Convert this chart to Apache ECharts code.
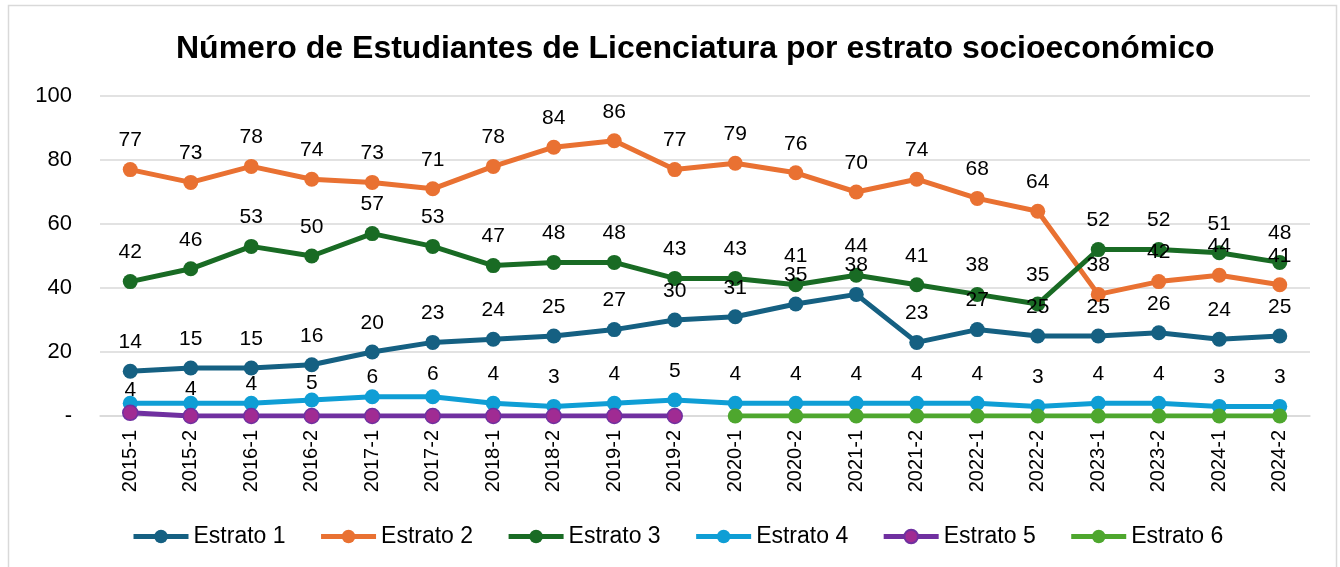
<!DOCTYPE html>
<html>
<head>
<meta charset="utf-8">
<script src="https://cdn.jsdelivr.net/npm/echarts@6/dist/echarts.min.js"></script>
<style>
  html, body { margin: 0; padding: 0; background: #fff; }
  #chart { width: 1340px; height: 567px; }
</style>
</head>
<body>
<div id="chart"></div>
<script>
// periodos
var periodos = ['2015-1','2015-2','2016-1','2016-2','2017-1','2017-2','2018-1','2018-2','2019-1','2019-2',
  '2020-1','2020-2','2021-1','2021-2','2022-1','2022-2','2023-1','2023-2','2024-1','2024-2'];

// valores por estrato
var estrato1 = [14,15,15,16,20,23,24,25,27,30,31,35,38,23,27,25,25,26,24,25];
var estrato2 = [77,73,78,74,73,71,78,84,86,77,79,76,70,74,68,64,38,42,44,41];
var estrato3 = [42,46,53,50,57,53,47,48,48,43,43,41,44,41,38,35,52,52,51,48];
var estrato4 = [4,4,4,5,6,6,4,3,4,5,4,4,4,4,4,3,4,4,3,3];
var estrato5 = [1,0,0,0,0,0,0,0,0,0,null,null,null,null,null,null,null,null,null,null];
var estrato6 = [null,null,null,null,null,null,null,null,null,null,0,0,0,0,0,0,0,0,0,0];

var yTicks = [0, 20, 40, 60, 80, 100];

var chart = echarts.init(document.getElementById('chart'));
var fuente = 'Liberation Sans, Arial, sans-serif';
var distEtiqueta = 11;

// etiquetas de estrato 4 que en el original van mas pegadas a la linea
var ajuste4 = {0: 16, 1: 15, 2: 10, 3: 12, 4: 9, 5: 6};

function serie(nombre, datos, color, conEtiqueta, colorPunto, ajustes) {
  var data = datos.map(function (v, i) {
    if (ajustes && ajustes[i] !== undefined) {
      return { value: v, label: { show: true, position: 'top', distance: distEtiqueta - ajustes[i] } };
    }
    return v;
  });
  return {
    name: nombre,
    type: 'line',
    data: data,
    symbol: 'circle',
    symbolSize: 15,
    showAllSymbol: true,
    lineStyle: { width: 5, color: color },
    itemStyle: colorPunto
      ? { color: colorPunto, borderColor: color, borderWidth: 1.5 }
      : { color: color },
    label: {
      show: conEtiqueta,
      position: 'top',
      distance: distEtiqueta,
      fontFamily: fuente,
      fontSize: 21,
      color: '#000'
    },
    emphasis: { disabled: true },
    animation: false
  };
}

chart.setOption({
  backgroundColor: '#fff',
  animation: false,
  title: {
    text: 'Número de Estudiantes de Licenciatura por estrato socioeconómico',
    left: 171,
    top: 28,
    textStyle: { fontFamily: fuente, fontSize: 32, fontWeight: 'bold', color: '#000' }
  },
  graphic: [{
    type: 'rect',
    shape: { x: 8.5, y: 5.5, width: 1328, height: 570 },
    style: { fill: 'none', stroke: '#D9D9D9', lineWidth: 1.5 },
    silent: true
  }],
  legend: {
    left: 126,
    top: 520,
    itemWidth: 55,
    itemHeight: 17,
    itemGap: 33,
    lineStyle: { width: 5 },
    textStyle: { fontFamily: fuente, fontSize: 23, color: '#000' },
    data: ['Estrato 1','Estrato 2','Estrato 3','Estrato 4','Estrato 5','Estrato 6']
  },
  grid: { left: 100, right: 30, top: 96, bottom: 151 },
  xAxis: {
    type: 'category',
    data: periodos,
    boundaryGap: true,
    axisLine: { show: true, lineStyle: { color: '#D9D9D9', width: 1.5 } },
    axisTick: { show: false },
    axisLabel: {
      rotate: 90,
      interval: 0,
      margin: 14,
      fontFamily: fuente,
      fontSize: 20,
      color: '#000'
    }
  },
  yAxis: {
    type: 'value',
    min: yTicks[0],
    max: yTicks[yTicks.length - 1],
    interval: 20,
    axisLine: { show: false },
    axisTick: { show: false },
    splitLine: { lineStyle: { color: '#D9D9D9', width: 1.5 } },
    axisLabel: {
      margin: 28,
      fontFamily: fuente,
      fontSize: 22,
      color: '#000',
      formatter: function (v) { return v === 0 ? '-' : String(v); }
    }
  },
  series: [
    serie('Estrato 1', estrato1, '#156082', true),
    serie('Estrato 2', estrato2, '#E97132', true),
    serie('Estrato 3', estrato3, '#196B24', true),
    serie('Estrato 4', estrato4, '#0F9ED5', true, null, ajuste4),
    serie('Estrato 5', estrato5, '#7030A0', false, '#A02B93'),
    serie('Estrato 6', estrato6, '#4EA72E', false)
  ]
});
</script>
</body>
</html>
